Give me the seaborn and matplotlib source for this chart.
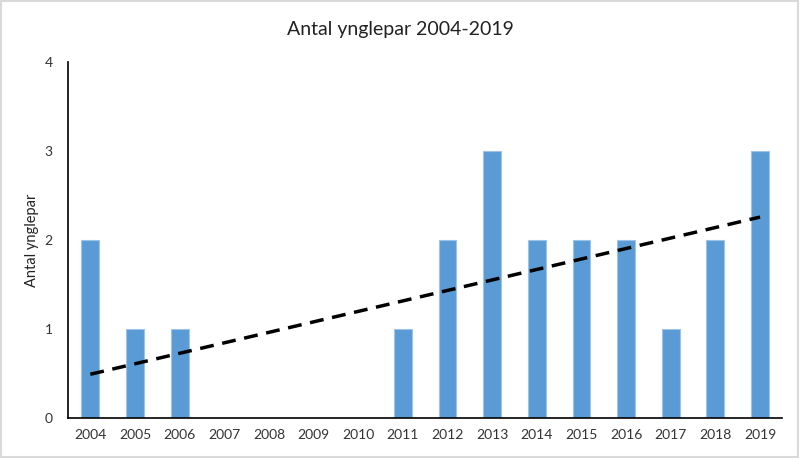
import numpy as np
import pandas as pd
import matplotlib
matplotlib.use("Agg")
import matplotlib.pyplot as plt
import seaborn as sns

years = [str(y) for y in range(2004, 2020)]
pairs = [2, 1, 1, 0, 0, 0, 0, 1, 2, 3, 2, 2, 2, 1, 2, 3]
yticks = [0, 1, 2, 3, 4]

sns.set_theme(style="white")
plt.rcParams['font.family'] = ['Lato', 'DejaVu Sans']

df = pd.DataFrame({"year": years, "pairs": pairs})

fig = plt.figure(figsize=(8, 4.58), dpi=100)
ax = fig.add_axes([0.085, 0.087, 0.893, 0.778])

sns.barplot(data=df, x="year", y="pairs", color="#5B9BD5", saturation=1,
            width=0.4, edgecolor="#9DC3E6", linewidth=0.8, ax=ax)

xs = np.arange(len(years))
coef = np.polyfit(xs, pairs, 1)
ax.plot(xs, np.polyval(coef, xs), color="black", lw=2.5,
        linestyle=(0, (4, 2.5)), zorder=5)

ax.set_xlim(-0.5, len(years) - 0.5)
ax.set_ylim(0, 4)
ax.set_yticks(yticks)
ax.set_yticklabels([str(t) for t in yticks], fontsize=10, color="#333333")
ax.set_xticks(xs)
ax.set_xticklabels(years, fontsize=10, color="#333333")
ax.set_xticks(np.arange(-0.5, len(years)), minor=True)
ax.tick_params(axis="x", which="major", length=0, pad=8)
ax.tick_params(axis="x", which="minor", length=5, width=1.2, color="black", direction="out")
ax.tick_params(axis="y", which="major", length=5, width=1.2, color="black", direction="out", pad=6)

for s in ["top", "right"]:
    ax.spines[s].set_visible(False)
for s in ["left", "bottom"]:
    ax.spines[s].set_color("black")
    ax.spines[s].set_linewidth(1.2)

ax.set_xlabel("")
ax.set_ylabel("Antal ynglepar", fontsize=10.5, color="#222222", labelpad=4)
fig.suptitle("Antal ynglepar 2004-2019", fontsize=14, color="#222222", y=0.955)

fig.patches.append(plt.Rectangle((0.001, 0.002), 0.997, 0.995, transform=fig.transFigure,
                                 fill=False, edgecolor="#D9D9D9", linewidth=1.5))

fig.savefig("out.png", dpi=100)
